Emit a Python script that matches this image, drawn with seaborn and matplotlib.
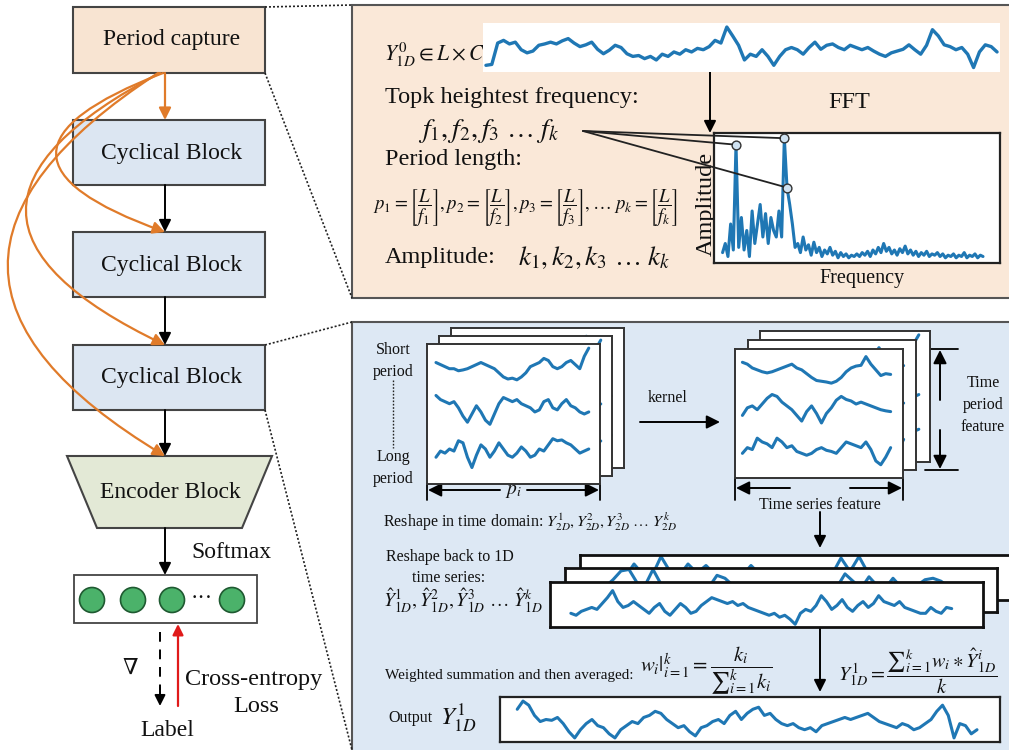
import numpy as np
import matplotlib
matplotlib.use("Agg")
import matplotlib.pyplot as plt
import seaborn as sns
from matplotlib.patches import Rectangle, Polygon, Circle, ConnectionPatch

# ---------------- data ----------------
y0_series = [0.10, 0.12, 0.60, 0.66, 0.58, 0.62, 0.45, 0.38, 0.42, 0.55, 0.58, 0.62, 0.58, 0.65,
             0.70, 0.60, 0.52, 0.56, 0.62, 0.46, 0.36, 0.44, 0.55, 0.50, 0.36, 0.30, 0.32, 0.25,
             0.30, 0.22, 0.35, 0.30, 0.40, 0.35, 0.45, 0.40, 0.48, 0.45, 0.52, 0.66, 0.60, 0.96,
             0.76, 0.55, 0.22, 0.35, 0.30, 0.45, 0.30, 0.10, 0.30, 0.45, 0.50, 0.45, 0.35, 0.50,
             0.62, 0.46, 0.55, 0.58, 0.50, 0.45, 0.55, 0.50, 0.45, 0.50, 0.42, 0.35, 0.30, 0.38,
             0.42, 0.46, 0.56, 0.45, 0.35, 0.55, 0.90, 0.76, 0.56, 0.52, 0.45, 0.50, 0.35, 0.05,
             0.40, 0.56, 0.52, 0.40]

fft_amp = [0.08, 0.15, 0.05, 0.30, 0.10, 0.91, 0.12, 0.35, 0.10, 0.25, 0.05, 0.40, 0.15, 0.30,
           0.45, 0.20, 0.38, 0.15, 0.35, 0.25, 0.20, 0.40, 0.20, 0.96, 0.58, 0.45, 0.30, 0.12,
           0.15, 0.08, 0.20, 0.10, 0.14, 0.06, 0.16, 0.08, 0.12, 0.05, 0.10, 0.07, 0.12, 0.06,
           0.09, 0.04, 0.08, 0.05, 0.07, 0.04, 0.06, 0.05, 0.07, 0.05, 0.08, 0.06, 0.09, 0.05,
           0.10, 0.07, 0.12, 0.08, 0.15, 0.09, 0.12, 0.07, 0.10, 0.06, 0.11, 0.08, 0.13, 0.07,
           0.10, 0.06, 0.09, 0.05, 0.08, 0.06, 0.09, 0.05, 0.07, 0.06, 0.08, 0.05, 0.07, 0.04,
           0.06, 0.05, 0.07, 0.04, 0.06, 0.05, 0.08, 0.04, 0.06, 0.05, 0.07, 0.04, 0.06, 0.05]
fft_peaks = [5, 23, 24]

short_row = [0.60, 0.55, 0.50, 0.45, 0.45, 0.40, 0.42, 0.45, 0.50, 0.55, 0.60, 0.55, 0.50, 0.45,
             0.35, 0.25, 0.20, 0.22, 0.18, 0.25, 0.35, 0.50, 0.55, 0.60, 0.70, 0.65, 0.50, 0.45,
             0.50, 0.60, 0.65, 0.55, 0.45, 0.75, 0.95]
mid_row = [0.80, 0.70, 0.65, 0.60, 0.65, 0.50, 0.30, 0.15, 0.35, 0.55, 0.40, 0.20, 0.10, 0.35,
           0.60, 0.75, 0.70, 0.65, 0.70, 0.60, 0.55, 0.50, 0.40, 0.45, 0.65, 0.70, 0.50, 0.45,
           0.60, 0.70, 0.55, 0.50, 0.40, 0.35, 0.40]
long_row = [0.30, 0.45, 0.40, 0.50, 0.45, 0.70, 0.65, 0.30, 0.05, 0.35, 0.60, 0.50, 0.30, 0.45,
            0.65, 0.50, 0.35, 0.30, 0.40, 0.55, 0.45, 0.30, 0.35, 0.50, 0.45, 0.60, 0.75, 0.70,
            0.72, 0.65, 0.60, 0.50, 0.40, 0.45, 0.50]

feat_top = [0.70, 0.65, 0.55, 0.50, 0.45, 0.42, 0.45, 0.50, 0.55, 0.60, 0.65, 0.55, 0.50, 0.40,
            0.30, 0.22, 0.20, 0.18, 0.15, 0.20, 0.30, 0.45, 0.55, 0.60, 0.62, 0.85, 0.65, 0.50,
            0.35, 0.40, 0.38]
feat_mid = [0.30, 0.50, 0.55, 0.45, 0.60, 0.75, 0.85, 0.80, 0.65, 0.55, 0.45, 0.30, 0.15, 0.40,
            0.55, 0.35, 0.10, 0.35, 0.50, 0.70, 0.80, 0.72, 0.68, 0.60, 0.65, 0.60, 0.55, 0.50,
            0.45, 0.42, 0.40]
feat_low = [0.30, 0.45, 0.40, 0.70, 0.60, 0.55, 0.45, 0.70, 0.60, 0.45, 0.50, 0.35, 0.30, 0.25,
            0.30, 0.40, 0.45, 0.38, 0.35, 0.30, 0.45, 0.60, 0.55, 0.50, 0.45, 0.60, 0.40, 0.10,
            0.00, 0.20, 0.45]

reshape_front = [0.30, 0.25, 0.35, 0.40, 0.45, 0.40, 0.55, 0.70, 0.88, 0.60, 0.45, 0.50, 0.60,
                 0.50, 0.40, 0.30, 0.45, 0.55, 0.35, 0.25, 0.40, 0.55, 0.45, 0.30, 0.35, 0.50,
                 0.60, 0.70, 0.65, 0.60, 0.55, 0.60, 0.50, 0.55, 0.45, 0.40, 0.35, 0.30, 0.25,
                 0.30, 0.20, 0.25, 0.15, 0.02, 0.30, 0.40, 0.35, 0.50, 0.75, 0.60, 0.40, 0.50,
                 0.65, 0.45, 0.35, 0.50, 0.60, 0.45, 0.55, 0.75, 0.60, 0.55, 0.50, 0.60, 0.45,
                 0.40, 0.35, 0.30, 0.30, 0.45, 0.35, 0.30, 0.45, 0.42]
reshape_mid = [0.20, 0.30, 0.35, 0.60, 0.90, 0.95, 0.50, 0.40, 0.95, 0.45, 0.30, 0.25, 0.35,
               0.40, 0.30, 0.35, 0.75, 0.65, 0.40, 0.30, 0.25, 0.35, 0.40, 0.30, 0.25, 0.30,
               0.35, 0.30, 0.25, 0.35, 0.40, 0.35, 0.80, 0.55, 0.30, 0.70, 0.40, 0.30, 0.65,
               0.35, 0.30, 0.40, 0.60, 0.65, 0.55, 0.35, 0.30]
reshape_back = [0.20, 0.30, 0.25, 0.70, 0.35, 0.30, 0.95, 0.45, 0.30, 0.70, 0.40, 0.65, 0.35,
                0.30, 0.25, 0.30, 0.65, 0.35, 0.30, 0.25, 0.30, 0.35, 0.30, 0.25, 0.30, 0.35,
                0.90, 0.45, 0.95, 0.40, 0.30, 0.25, 0.30, 0.35, 0.30, 0.25, 0.30, 0.35, 0.30,
                0.25, 0.30]

output_series = [0.75, 0.95, 0.85, 0.60, 0.45, 0.50, 0.48, 0.55, 0.40, 0.20, 0.05, 0.25, 0.40,
                 0.50, 0.35, 0.30, 0.15, 0.05, 0.25, 0.35, 0.45, 0.40, 0.55, 0.60, 0.70, 0.65,
                 0.50, 0.40, 0.30, 0.35, 0.20, 0.10, 0.30, 0.35, 0.45, 0.50, 0.40, 0.60, 0.70,
                 0.50, 0.65, 0.75, 0.80, 0.60, 0.65, 0.50, 0.40, 0.35, 0.40, 0.30, 0.25, 0.30,
                 0.20, 0.35, 0.40, 0.45, 0.50, 0.55, 0.50, 0.55, 0.60, 0.65, 0.55, 0.45, 0.40,
                 0.35, 0.30, 0.40, 0.35, 0.25, 0.30, 0.40, 0.50, 0.70, 0.85, 0.60, 0.05, 0.40,
                 0.35, 0.15, 0.25]

block_labels = ["Cyclical Block", "Cyclical Block", "Cyclical Block"]

# ---------------- styling ----------------
sns.set_theme(style="white")
plt.rcParams["font.family"] = ["Liberation Serif", "DejaVu Serif"]
plt.rcParams["mathtext.fontset"] = "stix"

W, H = 1009, 750
LINE = "#1f77b4"
ORANGE = "#E07B2A"
fig = plt.figure(figsize=(W / 100, H / 100), dpi=100)
fig.patch.set_facecolor("white")
ax = fig.add_axes([0, 0, 1, 1])
ax.set_xlim(0, W)
ax.set_ylim(H, 0)
ax.axis("off")


def box(x0, y0, x1, y1, fc, ec="#444444", lw=1.5, z=2):
    ax.add_patch(Rectangle((x0, y0), x1 - x0, y1 - y0, facecolor=fc, edgecolor=ec, lw=lw, zorder=z))


def arrow(p0, p1, color="black", lw=1.4, ms=18, ls="-", cs=None, z=3):
    props = dict(arrowstyle="-|>", color=color, lw=lw, mutation_scale=ms, shrinkA=0, shrinkB=0,
                 linestyle=ls)
    if cs:
        props["connectionstyle"] = cs
    ax.annotate("", xy=p1, xytext=p0, arrowprops=props, zorder=z)


def txt(x, y, s, size=14, ha="center", va="center", **kw):
    ax.text(x, y, s, fontsize=size, ha=ha, va=va, color="#111111", zorder=6, **kw)


def inset(x0, y0, x1, y1, frame=True, lw=1.5, ec="#333333"):
    a = fig.add_axes([x0 / W, 1 - y1 / H, (x1 - x0) / W, (y1 - y0) / H])
    a.set_facecolor("white")
    a.set_xticks([])
    a.set_yticks([])
    for s in a.spines.values():
        s.set_visible(frame)
        s.set_linewidth(lw)
        s.set_color(ec)
    return a


def draw_series(a, vals, offset=0.0, lw=2.2, xl=None, yl=None):
    xs = np.arange(len(vals))
    sns.lineplot(x=xs, y=np.asarray(vals) + offset, ax=a, color=LINE, linewidth=lw,
                 estimator=None, legend=False)
    a.set_xlabel("")
    a.set_ylabel("")
    if xl is not None:
        a.set_xlim(*xl)
    if yl is not None:
        a.set_ylim(*yl)


# ---------------- left column ----------------
box(73, 7, 265, 73, "#F8E4D2")
txt(172, 40, "Period capture", 17)
for i, yy in enumerate([120, 232, 345]):
    box(73, yy, 265, yy + 65, "#DCE6F2")
    txt(172, yy + 33, block_labels[i], 17)
ax.add_patch(Polygon([(67, 456), (272, 456), (242, 528), (97, 528)], closed=True,
                     facecolor="#E3E9D6", edgecolor="#444444", lw=1.5, zorder=2))
txt(170, 493, "Encoder Block", 17)

# arrows
arrow((165, 73), (165, 120), color=ORANGE, lw=1.6)
arrow((163, 73), (165, 232), color=ORANGE, lw=1.6, cs="arc3,rad=1.35")
arrow((160, 73), (165, 345), color=ORANGE, lw=1.6, cs="arc3,rad=1.0")
arrow((158, 73), (165, 456), color=ORANGE, lw=1.6, cs="arc3,rad=0.8")
arrow((165, 185), (165, 232))
arrow((165, 297), (165, 345))
arrow((165, 410), (165, 456))
arrow((165, 528), (165, 575))
txt(231, 552, "Softmax", 17)

box(74, 575, 257, 623, "white", ec="#444444", lw=1.3)
for cx in [92, 133, 172, 232]:
    ax.add_patch(Circle((cx, 600), 12.5, facecolor="#4BB26A", edgecolor="#1F5A31", lw=1.2, zorder=4))
txt(202, 600, "\u00b7\u00b7\u00b7", 16)

ax.plot([160, 160], [632, 690], color="black", lw=1.4, ls=(0, (5, 4)), zorder=3)
arrow((160, 688), (160, 706), lw=1.4, ms=16)
arrow((178, 706), (178, 624), color="#E01A1A", lw=1.6, ms=16)
txt(130, 669, "\u2207", 16)
txt(254, 679, "Cross-entropy", 17.5)
txt(256, 706, "Loss", 17.5)
txt(167, 731, "Label", 17)

# dotted zoom lines
for (p, q) in [((265, 7), (352, 5)), ((265, 73), (352, 298)),
               ((265, 345), (352, 322)), ((265, 410), (352, 750))]:
    ax.plot([p[0], q[0]], [p[1], q[1]], color="#222222", lw=1.2, ls=(0, (1.2, 1.2)), zorder=3)

# ---------------- top right panel ----------------
box(352, 5, 1012, 298, "#FAE8D8", ec="#555555", lw=1.5, z=1)
txt(384, 55, r"$Y_{1D}^{0}\in L\times C$", 15.5, ha="left")
txt(385, 97, "Topk heightest frequency:", 17.5, ha="left")
txt(418, 131, r"$f_1, f_2, f_3\ \ldots\ f_k$", 20, ha="left")
txt(385, 159, "Period length:", 17.5, ha="left")
txt(373, 207, r"$p_1=\left[\dfrac{L}{f_1}\right], p_2=\left[\dfrac{L}{f_2}\right], "
              r"p_3=\left[\dfrac{L}{f_3}\right], \ldots\ p_k=\left[\dfrac{L}{f_k}\right]$",
    13.5, ha="left")
txt(385, 258, "Amplitude:", 17.5, ha="left")
txt(518, 258, r"$k_1, k_2, k_3\ \ldots\ k_k$", 19.5, ha="left")
arrow((710, 72), (710, 133))
txt(828, 103, "FFT", 17.5, ha="left")
txt(706, 204, "Amplitude", 17.5, rotation=90)
txt(862, 278, "Frequency", 14.5)

# ---------------- lower right panel ----------------
box(352, 322, 1012, 752, "#DDE8F4", ec="#555555", lw=1.5, z=1)
txt(393, 361, "Short\nperiod", 11.5, linespacing=1.5)
txt(393, 468, "Long\nperiod", 11.5, linespacing=1.5)
ax.plot([393, 393], [380, 448], color="#222222", lw=1.0, ls=(0, (1.2, 1.2)), zorder=3)

# p_i arrow
for xx in (427, 600):
    ax.plot([xx, xx], [484, 500], color="black", lw=1.3, zorder=3)
arrow((500, 490), (428, 490), ms=20)
arrow((527, 490), (599, 490), ms=20)
txt(513, 492, r"$p_i$", 14)

txt(668, 398, "kernel", 11.5)
arrow((640, 422), (720, 422), ms=20)

# time period feature arrows
for yy in (349, 470):
    ax.plot([925, 958], [yy, yy], color="black", lw=1.3, zorder=3)
arrow((940, 400), (940, 350), ms=20)
arrow((940, 430), (940, 469), ms=20)
txt(983, 405, "Time\nperiod\nfeature", 11.5, linespacing=1.5)

for xx in (735, 903):
    ax.plot([xx, xx], [478, 500], color="black", lw=1.3, zorder=3)
arrow((790, 488), (736, 488), ms=20)
arrow((850, 488), (902, 488), ms=20)
txt(820, 505, "Time series feature", 11.5)
arrow((820, 512), (820, 548))

txt(383, 522, r"Reshape in time domain: $Y_{2D}^{1}, Y_{2D}^{2}, Y_{2D}^{3}\ \ldots\ Y_{2D}^{k}$",
    11.5, ha="left")
txt(386, 557, "Reshape back to 1D", 11.5, ha="left")
txt(449, 578, "time series:", 11.5)
txt(383, 601, r"$\hat{Y}_{1D}^{1}, \hat{Y}_{1D}^{2}, \hat{Y}_{1D}^{3}\ \ldots\ \hat{Y}_{1D}^{k}$",
    14, ha="left")
arrow((820, 627), (820, 692))
txt(385, 675, "Weighted summation and then averaged:", 11, ha="left")
txt(640, 671, r"$w_i|_{i=1}^{k}=\dfrac{k_i}{{\sum}_{i=1}^{k}k_i}$", 15, ha="left")
txt(838, 671, r"$Y_{1D}^{1}=\dfrac{{\sum}_{i=1}^{k}w_i\ast\hat{Y}_{1D}^{i}}{k}$", 14.5, ha="left")
txt(388, 718, "Output", 11.5, ha="left")
txt(440, 718, r"$Y_{1D}^{1}$", 18, ha="left")

# ---------------- inset plots ----------------
# Y0 series
a = inset(483, 23, 1000, 72, frame=False)
draw_series(a, y0_series, lw=2.4, xl=(-0.5, len(y0_series) - 0.5), yl=(-0.05, 1.05))

# FFT spectrum
af = inset(714, 133, 1000, 263, frame=True, lw=1.6, ec="#222222")
n = len(fft_amp)
span = n / 0.92
draw_series(af, fft_amp, lw=2.2, xl=(-0.03 * span, 0.97 * span), yl=(0, 1.0))
px = np.array(fft_peaks)
py = np.array(fft_amp)[px]
af.scatter(px, py, s=40, facecolor="#CFE2F2", edgecolor="#333333", linewidth=1.0, zorder=5)
for xx, yy in zip(px, py):
    con = ConnectionPatch(xyA=(583, 131), coordsA=ax.transData, xyB=(xx, yy), coordsB=af.transData,
                          color="#222222", lw=1.3, shrinkB=3)
    fig.add_artist(con)

# left stack (back to front)
rows_left = [short_row, mid_row, long_row]
rows_right = [feat_top, feat_mid, feat_low]
yl3 = (-0.35, 3.05)
for (x0, y0, x1, y1), rows in [((451, 328, 624, 468), rows_right), ((439, 336, 612, 476), rows_left),
                               ((427, 344, 600, 484), rows_left)]:
    a = inset(x0, y0, x1, y1, lw=1.4)
    for k, r in enumerate(rows):
        draw_series(a, r, offset=2 - k, lw=2.2)
    a.set_xlim(-2, len(rows[0]) + 1.5)
    a.set_ylim(*yl3)

for (x0, y0, x1, y1), rows in [((760, 331, 930, 462), rows_left), ((748, 340, 916, 470), rows_right),
                               ((735, 349, 903, 478), rows_right)]:
    a = inset(x0, y0, x1, y1, lw=1.4)
    for k, r in enumerate(rows):
        draw_series(a, r, offset=2 - k, lw=2.2)
    a.set_xlim(-1.5, len(rows[0]) + 1.5)
    a.set_ylim(*yl3)

# reshape stack
a = inset(580, 555, 1012, 600, lw=2.0, ec="#111111")
draw_series(a, reshape_back, lw=2.2, xl=(-3, len(reshape_back) + 4), yl=(-0.5, 1.0))
a = inset(565, 568, 997, 612, lw=2.0, ec="#111111")
draw_series(a, reshape_mid, lw=2.2, xl=(-3, len(reshape_mid) + 4), yl=(-0.5, 1.0))
a = inset(550, 582, 983, 627, lw=2.0, ec="#111111")
draw_series(a, reshape_front, lw=2.2, xl=(-4, len(reshape_front) + 5), yl=(-0.05, 1.1))

# output
a = inset(500, 697, 1000, 742, lw=1.6, ec="#222222")
draw_series(a, output_series, lw=2.2, xl=(-3, len(output_series) + 3), yl=(-0.05, 1.05))

fig.savefig("out.png", dpi=100)
